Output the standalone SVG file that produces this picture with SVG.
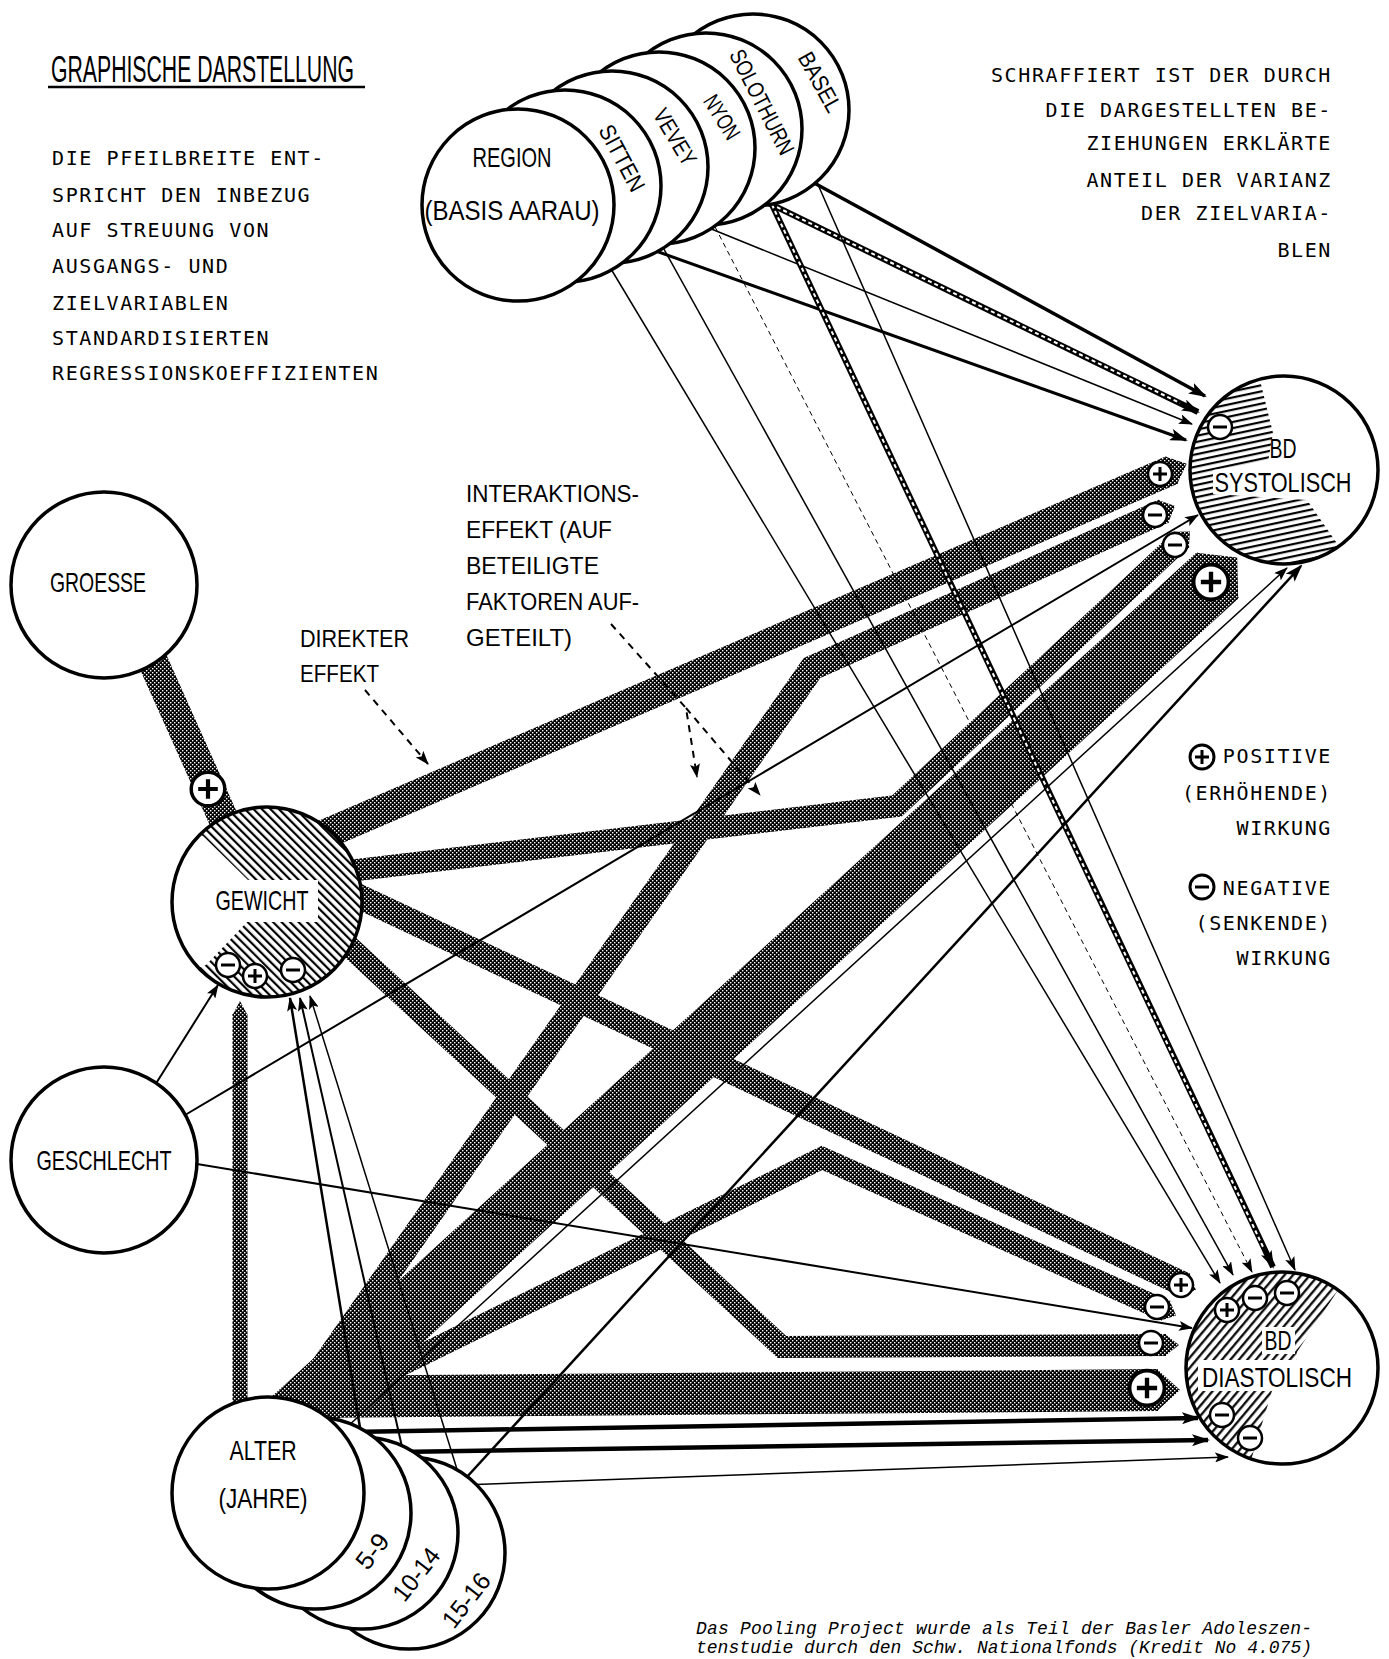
<svg xmlns="http://www.w3.org/2000/svg" width="1389" height="1659" viewBox="0 0 1389 1659">
<defs>
<style>
.tw{font-family:"DejaVu Sans Mono","Liberation Mono",monospace;font-size:20px;letter-spacing:1.6px;fill:#000}
.cd{font-family:"Liberation Sans",Arial,sans-serif;fill:#000}
.ft{font-family:"Liberation Mono",monospace;font-style:italic;font-size:18px;fill:#000}
.nd{fill:#fff;stroke:#000;stroke-width:3.5}
.ol{fill:none;stroke:#000;stroke-width:3.5}
.bd{fill:none;stroke:url(#mesh);stroke-linejoin:miter;stroke-miterlimit:10}
.tp{fill:url(#mesh)}
.ln{fill:none;stroke:#000;marker-end:url(#ah)}
.lb{fill:none;stroke:#000;marker-end:url(#ahb)}
.wd{fill:none;stroke:#fff;stroke-width:2;stroke-dasharray:4 3}
.ds{fill:none;stroke:#000;stroke-width:2;stroke-dasharray:7 6;marker-end:url(#ah)}
</style>
<pattern id="mesh" width="4" height="4" patternUnits="userSpaceOnUse"><rect width="4" height="4" fill="#000"/><rect width="1.4" height="1.4" fill="#fff"/><rect x="2" y="2" width="1.4" height="1.4" fill="#fff"/></pattern>
<pattern id="hG" width="6" height="6" patternUnits="userSpaceOnUse" patternTransform="rotate(-45)"><rect x="2" width="2.2" height="6" fill="#000"/></pattern>
<pattern id="hD" width="6.5" height="6.5" patternUnits="userSpaceOnUse" patternTransform="rotate(40)"><rect x="2" width="2.2" height="6.5" fill="#000"/></pattern>
<pattern id="hS" width="6" height="6" patternUnits="userSpaceOnUse" patternTransform="rotate(-12)"><rect y="2" width="6" height="2.2" fill="#000"/></pattern>
<marker id="ah" viewBox="0 0 14 10" refX="13" refY="5" markerWidth="14" markerHeight="10" markerUnits="userSpaceOnUse" orient="auto"><path d="M0,0 L14,5 L0,10 L3,5 Z" fill="#000"/></marker>
<marker id="ahb" viewBox="0 0 18 12" refX="16" refY="6" markerWidth="18" markerHeight="12" markerUnits="userSpaceOnUse" orient="auto"><path d="M0,0 L18,6 L0,12 L4,6 Z" fill="#000"/></marker>
<clipPath id="cG"><circle cx="267" cy="902" r="94"/></clipPath>
<clipPath id="cS"><circle cx="1284" cy="470" r="93"/></clipPath>
<clipPath id="cD"><circle cx="1282" cy="1368" r="95"/></clipPath>
<g id="sp"><circle r="12" fill="#fff" stroke="#000" stroke-width="2.5"/><path d="M-7,0H7M0,-7V7" stroke="#000" stroke-width="3"/></g>
<g id="sm"><circle r="12" fill="#fff" stroke="#000" stroke-width="2.5"/><path d="M-7,0H7" stroke="#000" stroke-width="3"/></g>
</defs>
<rect width="1389" height="1659" fill="#fff"/>

<g id="notes">
<text class="cd" x="51" y="82" font-size="36" textLength="303" lengthAdjust="spacingAndGlyphs">GRAPHISCHE DARSTELLUNG</text>
<line x1="48" y1="87" x2="365" y2="87" stroke="#000" stroke-width="2.5"/>
<text class="tw" x="52" y="165">DIE PFEILBREITE ENT-</text>
<text class="tw" x="52" y="202">SPRICHT DEN INBEZUG</text>
<text class="tw" x="52" y="237">AUF STREUUNG VON</text>
<text class="tw" x="52" y="273">AUSGANGS- UND</text>
<text class="tw" x="52" y="310">ZIELVARIABLEN</text>
<text class="tw" x="52" y="345">STANDARDISIERTEN</text>
<text class="tw" x="52" y="380">REGRESSIONSKOEFFIZIENTEN</text>
<g text-anchor="end">
<text class="tw" x="1332" y="82">SCHRAFFIERT IST DER DURCH</text>
<text class="tw" x="1332" y="117">DIE DARGESTELLTEN BE-</text>
<text class="tw" x="1332" y="150">ZIEHUNGEN ERKLÄRTE</text>
<text class="tw" x="1332" y="187">ANTEIL DER VARIANZ</text>
<text class="tw" x="1332" y="220">DER ZIELVARIA-</text>
<text class="tw" x="1332" y="257">BLEN</text>
<text class="tw" x="1332" y="763">POSITIVE</text>
<text class="tw" x="1332" y="800">(ERHÖHENDE)</text>
<text class="tw" x="1332" y="835">WIRKUNG</text>
<text class="tw" x="1332" y="895">NEGATIVE</text>
<text class="tw" x="1332" y="930">(SENKENDE)</text>
<text class="tw" x="1332" y="965">WIRKUNG</text>
</g>
<g id="legend-signs">
<circle cx="1202" cy="757" r="12" fill="#fff" stroke="#000" stroke-width="3"/><path d="M1195,757H1209M1202,750V764" stroke="#000" stroke-width="3"/>
<circle cx="1202" cy="887" r="12" fill="#fff" stroke="#000" stroke-width="3"/><path d="M1195,887H1209" stroke="#000" stroke-width="3"/>
</g>
<g font-size="24">
<text class="cd" x="466" y="502" textLength="173" lengthAdjust="spacingAndGlyphs">INTERAKTIONS-</text>
<text class="cd" x="466" y="538" textLength="146" lengthAdjust="spacingAndGlyphs">EFFEKT (AUF</text>
<text class="cd" x="466" y="574" textLength="133" lengthAdjust="spacingAndGlyphs">BETEILIGTE</text>
<text class="cd" x="466" y="610" textLength="173" lengthAdjust="spacingAndGlyphs">FAKTOREN AUF-</text>
<text class="cd" x="466" y="646" textLength="106" lengthAdjust="spacingAndGlyphs">GETEILT)</text>
<text class="cd" x="300" y="647" textLength="109" lengthAdjust="spacingAndGlyphs">DIREKTER</text>
<text class="cd" x="300" y="682" textLength="79" lengthAdjust="spacingAndGlyphs">EFFEKT</text>
</g>
<text class="ft" x="696" y="1634" textLength="616">Das Pooling Project wurde als Teil der Basler Adoleszen-</text>
<text class="ft" x="696" y="1653" textLength="616">tenstudie durch den Schw. Nationalfonds (Kredit No 4.075)</text>
</g>

<g id="connectors">
<path class="bd" stroke-width="30" d="M150,655 L232,838"/>
<path class="bd" stroke-width="30" d="M300,845 L1172,470"/>
<polygon class="tp" points="1165.2,456.6 1186.7,463.7 1177.0,484.2"/>
<path class="bd" stroke-width="62" d="M270,1440 L1218,575"/>
<polygon class="tp" points="1196.4,552.8 1237.2,557.5 1238.2,598.6"/>
<path class="bd" stroke-width="25" d="M271,1441 L812,668 L1164,511"/>
<polygon class="tp" points="1158.0,500.0 1175.0,506.1 1168.2,522.8"/>
<path class="bd" stroke-width="22" d="M340,872 L897,806 L1182,539"/>
<polygon class="tp" points="1173.8,531.7 1190.0,531.5 1188.8,547.7"/>
<path class="bd" stroke-width="25" d="M345,890 L1185,1285"/>
<polygon class="tp" points="1189.4,1273.3 1195.9,1290.1 1178.8,1295.9"/>
<path class="bd" stroke-width="22" d="M340,938 L782,1347 L1166,1345"/>
<polygon class="tp" points="1165,1334 1179,1345 1165,1356"/>
<path class="bd" stroke-width="22" d="M300,1415 L822,1158 L1166,1311"/>
<polygon class="tp" points="1169.6,1300.5 1176.1,1315.5 1160.6,1320.6"/>
<path class="bd" stroke-width="42" d="M300,1397 L1158,1390"/>
<polygon class="tp" points="1157,1369 1180,1390 1157,1411"/>
<path class="bd" stroke-width="15" d="M240,1425 L240,1014"/>
<polygon class="tp" points="232.5,1015 240,1001 247.5,1015"/>

<path class="lb" stroke-width="3.5" d="M805,178 L1205,396"/>
<path class="lb" stroke-width="6" d="M758,198 L1198,412"/>
<path class="wd" d="M758,198 L1180,403"/>
<path class="ln" stroke-width="1.5" d="M704,226 L1192,424"/>
<path class="lb" stroke-width="3" d="M653,250 L1186,440"/>
<path class="ln" stroke-width="1.5" d="M605,259 L1220,1283"/>
<path class="ln" stroke-width="1.5" d="M660,242 L1233,1275"/>
<path class="ln" stroke-width="1" stroke-dasharray="5 4" d="M711,219 L1252,1272"/>
<path class="lb" stroke-width="6" d="M766,192 L1273,1267"/>
<path class="wd" d="M766,192 L1264,1249"/>
<path class="ln" stroke-width="1.5" d="M812,171 L1295,1270"/>

<path class="ln" stroke-width="2" d="M150,1093 L218,985"/>
<path class="ln" stroke-width="2" d="M180,1118 L1198,515"/>
<path class="ln" stroke-width="2" d="M185,1162 L1192,1328"/>

<path class="ln" stroke-width="2.5" d="M362,1440 L290,998"/>
<path class="ln" stroke-width="2" d="M405,1460 L300,998"/>
<path class="ln" stroke-width="1.5" d="M465,1495 L310,996"/>
<path class="ln" stroke-width="1.5" d="M335,1438 L1287,568"/>
<path class="lb" stroke-width="2.5" d="M455,1490 L1301,566"/>
<path class="lb" stroke-width="4.5" d="M350,1432 L1198,1418"/>
<path class="lb" stroke-width="4.5" d="M398,1452 L1208,1440"/>
<path class="ln" stroke-width="1.5" d="M462,1485 L1228,1457"/>

<path class="ds" d="M365,690 L428,764"/>
<path class="ds" d="M611,624 L686,708 L697,777"/>
<path class="ds" d="M686,708 L760,795"/>
</g>

<g id="node-basel"><circle class="nd" cx="753" cy="110" r="96"/><text class="cd" font-size="23" text-anchor="middle" textLength="65" lengthAdjust="spacingAndGlyphs" transform="translate(820,82) rotate(61)" y="8">BASEL</text></g>
<g id="node-solothurn"><circle class="nd" cx="706" cy="129" r="96"/><text class="cd" font-size="23" text-anchor="middle" textLength="115" lengthAdjust="spacingAndGlyphs" transform="translate(762,102) rotate(63)" y="8">SOLOTHURN</text></g>
<g id="node-nyon"><circle class="nd" cx="659" cy="148" r="96"/><text class="cd" font-size="23" text-anchor="middle" textLength="48" lengthAdjust="spacingAndGlyphs" transform="translate(722,117) rotate(58)" y="8">NYON</text></g>
<g id="node-vevey"><circle class="nd" cx="612" cy="167" r="96"/><text class="cd" font-size="23" text-anchor="middle" textLength="62" lengthAdjust="spacingAndGlyphs" transform="translate(675,137) rotate(59)" y="8">VEVEY</text></g>
<g id="node-sitten"><circle class="nd" cx="565" cy="186" r="96"/><text class="cd" font-size="23" text-anchor="middle" textLength="72" lengthAdjust="spacingAndGlyphs" transform="translate(622,158) rotate(62)" y="8">SITTEN</text></g>
<g id="node-region"><circle class="nd" cx="518" cy="205" r="96"/>
<text class="cd" font-size="28" x="512" y="167" text-anchor="middle" textLength="79" lengthAdjust="spacingAndGlyphs">REGION</text>
<text class="cd" font-size="28" x="512" y="220" text-anchor="middle" textLength="175" lengthAdjust="spacingAndGlyphs">(BASIS AARAU)</text></g>

<g id="node-groesse"><circle class="nd" cx="104" cy="585" r="93"/><text class="cd" font-size="28" x="98" y="592" text-anchor="middle" textLength="96" lengthAdjust="spacingAndGlyphs">GROESSE</text></g>

<g id="node-gewicht">
<circle cx="267" cy="902" r="95" fill="#fff"/>
<circle cx="267" cy="902" r="95" fill="url(#hG)"/>
<polygon clip-path="url(#cG)" fill="#fff" points="140,820 203,836 248,880 318,880 318,922 247,922 206,965 140,990"/>
<circle class="ol" cx="267" cy="902" r="95"/>
<text class="cd" font-size="28" x="262" y="910" text-anchor="middle" textLength="93" lengthAdjust="spacingAndGlyphs">GEWICHT</text>
</g>

<g id="node-geschlecht"><circle class="nd" cx="104" cy="1160" r="93"/><text class="cd" font-size="28" x="104" y="1170" text-anchor="middle" textLength="135" lengthAdjust="spacingAndGlyphs">GESCHLECHT</text></g>

<g id="node-15-16"><circle class="nd" cx="409" cy="1553" r="96"/><text class="cd" font-size="25" text-anchor="middle" textLength="62" lengthAdjust="spacingAndGlyphs" transform="translate(466,1600) rotate(-52)" y="9">15-16</text></g>
<g id="node-10-14"><circle class="nd" cx="362" cy="1533" r="96"/><text class="cd" font-size="25" text-anchor="middle" textLength="60" lengthAdjust="spacingAndGlyphs" transform="translate(416,1574) rotate(-52)" y="9">10-14</text></g>
<g id="node-5-9"><circle class="nd" cx="315" cy="1513" r="96"/><text class="cd" font-size="25" text-anchor="middle" textLength="38" lengthAdjust="spacingAndGlyphs" transform="translate(372,1551) rotate(-52)" y="9">5-9</text></g>
<g id="node-alter"><circle class="nd" cx="268" cy="1493" r="96"/>
<text class="cd" font-size="28" x="263" y="1460" text-anchor="middle" textLength="67" lengthAdjust="spacingAndGlyphs">ALTER</text>
<text class="cd" font-size="28" x="263" y="1508" text-anchor="middle" textLength="89" lengthAdjust="spacingAndGlyphs">(JAHRE)</text></g>

<g id="node-bd-systolisch">
<circle cx="1284" cy="470" r="94" fill="#fff"/>
<polygon clip-path="url(#cS)" fill="url(#hS)" points="1255,360 1273,433 1268,462 1213,470 1213,494 1307,500 1345,555 1345,600 1160,600 1160,360"/>
<circle class="ol" cx="1284" cy="470" r="94"/>
<text class="cd" font-size="28" x="1283" y="458" text-anchor="middle" textLength="27" lengthAdjust="spacingAndGlyphs">BD</text>
<text class="cd" font-size="28" x="1283" y="492" text-anchor="middle" textLength="137" lengthAdjust="spacingAndGlyphs">SYSTOLISCH</text>
</g>

<g id="node-bd-diastolisch">
<circle cx="1282" cy="1368" r="96" fill="#fff"/>
<polygon clip-path="url(#cD)" fill="url(#hD)" points="1362,1254 1297,1352 1297,1360 1198,1360 1198,1391 1272,1391 1248,1470 1170,1470 1170,1254"/>
<rect x="1262" y="1327" width="33" height="27" fill="#fff"/>
<circle class="ol" cx="1282" cy="1368" r="96"/>
<text class="cd" font-size="28" x="1278" y="1350" text-anchor="middle" textLength="27" lengthAdjust="spacingAndGlyphs">BD</text>
<text class="cd" font-size="28" x="1277" y="1387" text-anchor="middle" textLength="150" lengthAdjust="spacingAndGlyphs">DIASTOLISCH</text>
</g>

<g id="effect-signs">
<use href="#sp" transform="translate(208,789) scale(1.4)"/>
<use href="#sm" x="228" y="965"/>
<use href="#sp" x="255" y="976"/>
<use href="#sm" x="293" y="970"/>
<use href="#sm" x="1220" y="427"/>
<use href="#sp" x="1160" y="474"/>
<use href="#sm" x="1155" y="515"/>
<use href="#sm" x="1175" y="545"/>
<use href="#sp" transform="translate(1211,582) scale(1.45)"/>
<use href="#sp" x="1181" y="1285"/>
<use href="#sm" x="1157" y="1307"/>
<use href="#sm" x="1151" y="1343"/>
<use href="#sp" transform="translate(1147,1388) scale(1.45)"/>
<use href="#sp" x="1227" y="1310"/>
<use href="#sm" x="1255" y="1298"/>
<use href="#sm" x="1287" y="1293"/>
<use href="#sm" x="1222" y="1415"/>
<use href="#sm" x="1250" y="1438"/>
</g>
</svg>
